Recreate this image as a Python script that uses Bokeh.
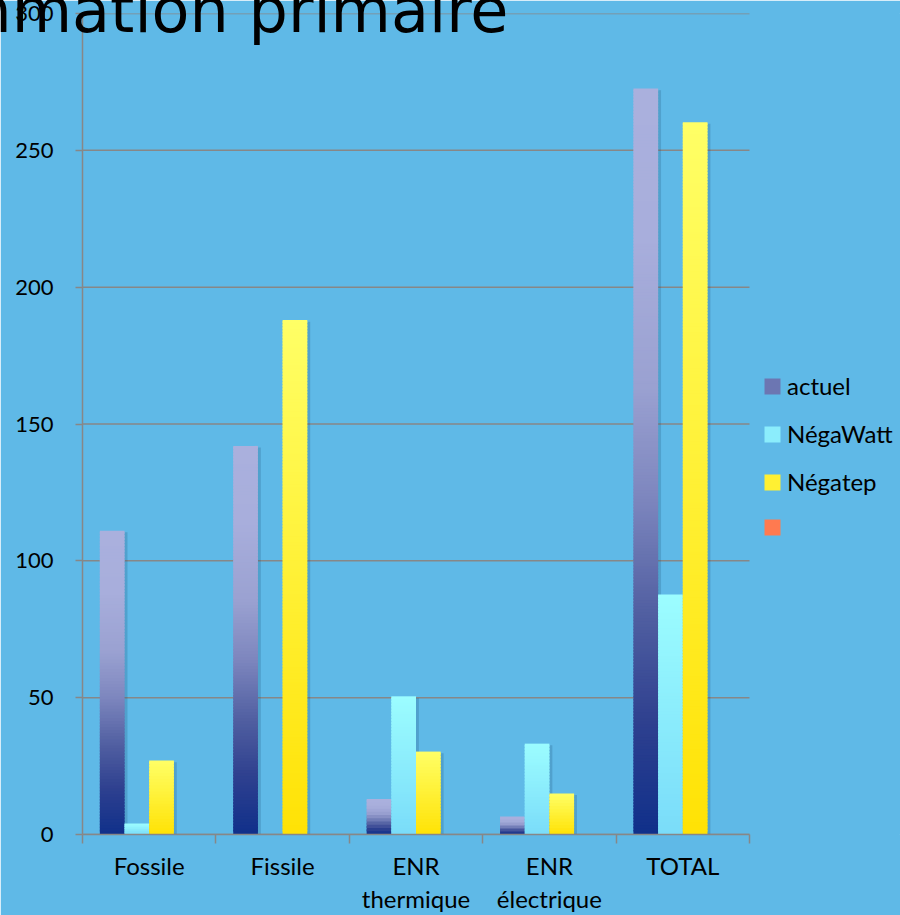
import numpy as np
from bokeh.plotting import figure
from bokeh.models import (ColumnDataSource, Range1d, FixedTicker, Legend,
                          LegendItem, Title)
from bokeh.embed import file_html
from bokeh.resources import INLINE

# Primary energy consumption by source (Mtep) for three scenarios
categories = ["Fossile", "Fissile", "ENR\nthermique", "ENR\nélectrique", "TOTAL"]
series_names = ["actuel", "NégaWatt", "Négatep", " "]
actuel = [111, 142, 13, 6.6, 272.6]
negawatt = [4, 0, 50.5, 33.2, 87.7]
negatep = [27, 188, 30.3, 15, 260.3]
vide = [0, 0, 0, 0, 0]
y_ticks = [0, 50, 100, 150, 200, 250, 300]

series_values = [actuel, negawatt, negatep, vide]

# vertical gradients, listed as (position from bottom, colour)
gradients = [
    [(0.0, "#10308A"), (0.15, "#2E408F"), (0.3, "#5260A2"), (0.45, "#7D86BE"),
     (0.6, "#9AA1D1"), (0.8, "#A8AEDC"), (1.0, "#AAB0DD")],
    [(0.0, "#7ADCF9"), (1.0, "#9CFDFF")],
    [(0.0, "#FFE205"), (1.0, "#FFFF66")],
    [(0.0, "#FF5A28"), (1.0, "#FF9A78")],
]
legend_colors = ["#6C76B2", "#8BEDFC", "#FFF033", "#FF7A50"]

BG = "#5FB9E7"
GRID = "#878787"
BAR_W = 0.185
N_CAT = len(categories)
# the plotting frame runs to the right edge; the category axis covers 0..N_CAT
X_END = N_CAT * 818 / 667


def hex_to_rgb(h):
    h = h.lstrip("#")
    return np.array([int(h[i:i + 2], 16) for i in (0, 2, 4)], dtype=float)


def gradient_color(stops, t):
    for (t0, c0), (t1, c1) in zip(stops[:-1], stops[1:]):
        if t <= t1:
            f = 0.0 if t1 == t0 else (t - t0) / (t1 - t0)
            rgb = hex_to_rgb(c0) * (1 - f) + hex_to_rgb(c1) * f
            return "#%02X%02X%02X" % tuple(int(round(v)) for v in rgb)
    return stops[-1][1]


n_series = len(series_values)
x_centers = np.arange(N_CAT) + 0.5

# build bar slices (for the vertical gradient) and soft shadows
sx, sb, st, sc = [], [], [], []
hx, ht = [], []
for k, (vals, stops) in enumerate(zip(series_values, gradients)):
    offset = (k - (n_series - 1) / 2) * BAR_W
    for xc, v in zip(x_centers, vals):
        if v <= 0:
            continue
        hx.append(xc + offset + 0.022)
        ht.append(v - 0.6)
        n = max(6, int(v * 0.9))
        for i in range(n):
            sx.append(xc + offset)
            sb.append(v * i / n)
            st.append(min(v, v * (i + 1.6) / n))
            sc.append(gradient_color(stops, (i + 0.5) / n))

p = figure(width=900, height=915, x_range=Range1d(0, X_END),
           y_range=Range1d(0, 300),
           output_backend="svg", toolbar_location=None,
           min_border_left=82, min_border_top=13, min_border_bottom=81,
           min_border_right=0, background_fill_color=BG, border_fill_color=BG,
           outline_line_color=BG, outline_line_width=1)

# horizontal grid lines across the category area only
p.segment(x0=0, x1=N_CAT, y0=y_ticks, y1=y_ticks, line_color=GRID,
          line_width=1.5, level="underlay")

shadow_src = ColumnDataSource(dict(x=hx, top=ht))
p.vbar(x="x", top="top", bottom=-2, width=BAR_W, source=shadow_src,
       fill_color="#143F6B", fill_alpha=0.2, line_color=None)

bar_src = ColumnDataSource(dict(x=sx, bottom=sb, top=st, color=sc))
p.vbar(x="x", bottom="bottom", top="top", width=BAR_W, source=bar_src,
       fill_color="color", line_color=None)

# legend swatches (kept off-range so only the legend shows them)
items = []
for name, col in zip(series_names, legend_colors):
    r = p.vbar(x=[-1.0], top=[1.0], bottom=[0.0], width=BAR_W,
               fill_color=col, line_color=None)
    items.append(LegendItem(label=name, renderers=[r]))

legend = Legend(items=items, location=(680, 295), margin=0, padding=0,
                border_line_color=None, background_fill_alpha=0,
                glyph_width=20, glyph_height=20, label_height=24,
                label_standoff=5, spacing=19,
                label_text_font="Lato", label_text_font_size="24px",
                label_text_color="black")
p.add_layout(legend)

p.xgrid.visible = False
p.ygrid.visible = False

# y axis
p.yaxis.ticker = FixedTicker(ticks=y_ticks)
p.yaxis.axis_line_color = GRID
p.yaxis.axis_line_width = 1.5
p.yaxis.major_tick_line_color = GRID
p.yaxis.major_tick_line_width = 1.5
p.yaxis.major_tick_out = 7
p.yaxis.major_tick_in = 0
p.yaxis.minor_tick_out = 0
p.yaxis.minor_tick_in = 0
p.yaxis.major_label_standoff = 22
p.yaxis.major_label_text_font = "Lato"
p.yaxis.major_label_text_font_size = "22px"
p.yaxis.major_label_text_color = "black"

# x axis: labels at category centres, ticks at category boundaries
p.xaxis.bounds = (0, N_CAT)
p.xaxis.ticker = FixedTicker(ticks=list(x_centers),
                             minor_ticks=list(range(N_CAT + 1)))
p.xaxis.major_label_overrides = {float(x): c for x, c in zip(x_centers, categories)}
p.xaxis.axis_line_color = GRID
p.xaxis.axis_line_width = 1.5
p.xaxis.major_tick_out = 0
p.xaxis.major_tick_in = 0
p.xaxis.minor_tick_out = 9
p.xaxis.minor_tick_in = 0
p.xaxis.minor_tick_line_color = GRID
p.xaxis.minor_tick_line_width = 1.5
p.xaxis.major_label_standoff = 7
p.xaxis.major_label_text_font = "Lato"
p.xaxis.major_label_text_font_size = "24px"
p.xaxis.major_label_text_line_height = 1.14
p.xaxis.major_label_text_color = "black"

# slide title, running off the top-left corner
title = Title(text="Consommation primaire", align="right", offset=392,
              vertical_align="bottom", standoff=-66,
              text_font="DejaVu Sans", text_font_size="62px",
              text_font_style="normal", text_color="black")
p.add_layout(title, "above")

open("out.html", "w").write(file_html(p, INLINE))
